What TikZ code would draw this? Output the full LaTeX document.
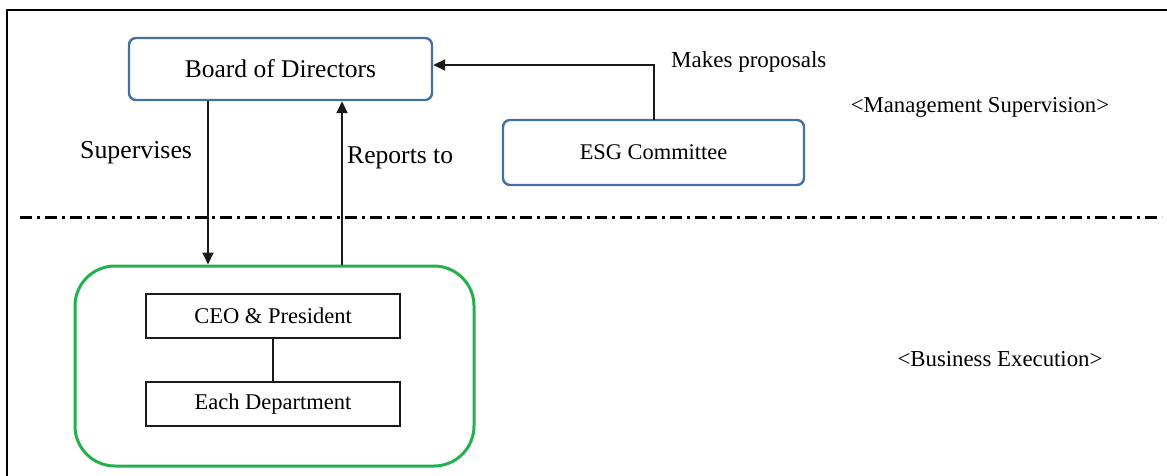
\documentclass[tikz,border=0pt]{standalone}
\usepackage{fontspec}
\setmainfont{Liberation Serif}
\usetikzlibrary{arrows.meta}
\definecolor{boxblue}{HTML}{41719C}
\definecolor{boxgreen}{HTML}{22B14C}
\definecolor{linegray}{HTML}{1A1A1A}
\tikzset{
  bluebox/.style={draw=boxblue, line width=2.4pt, rounded corners=7pt, fill=white, inner sep=0pt},
  plainbox/.style={draw=linegray, line width=1.6pt, fill=white, inner sep=0pt, minimum width=254pt, minimum height=44pt, font=\fontsize{22.5}{24}\selectfont},
  arr/.style={draw=linegray, line width=2pt, -{Triangle[length=12pt,width=11pt]}},
  conn/.style={draw=linegray, line width=1.6pt},
  lbl/.style={inner sep=0pt},
}
\begin{document}
\begin{tikzpicture}[x=1pt,y=-1pt]
\useasboundingbox (0,0) rectangle (1167,476);
% frame
\draw[line width=2pt, black] (7,478) -- (7,10) -- (1169,10);
% separator
\draw[line width=3pt, black, dash pattern=on 12pt off 5pt on 3pt off 5pt] (20,217) -- (1162,217);
% nodes
\node[bluebox, minimum width=303pt, minimum height=62pt, font=\fontsize{25.5}{27}\selectfont] (board) at (280.5,69) {Board of Directors};
\node[bluebox, minimum width=301pt, minimum height=65pt, font=\fontsize{22.4}{24}\selectfont] (esg) at (653.5,152.5) {ESG Committee};
\node[draw=boxgreen, line width=3pt, rounded corners=40pt, minimum width=399pt, minimum height=200pt, inner sep=0pt] (exec) at (274.5,366) {};
\node[plainbox] (ceo) at (273,316) {CEO \& President};
\node[plainbox] (dept) at (273,404) {Each Department};
% labels
\node[lbl, anchor=west, font=\fontsize{23}{25}\selectfont] (mp) at (671,62) {Makes proposals};
\node[lbl, anchor=west, font=\fontsize{25.8}{28}\selectfont] (sup) at (80,153) {Supervises};
\node[lbl, anchor=west, font=\fontsize{25.6}{28}\selectfont] (rep) at (347,158) {Reports to};
\node[inner sep=0pt, font=\fontsize{22.7}{25}\selectfont] (mgmt) at (980,107) {<Management Supervision>};
\node[inner sep=0pt, font=\fontsize{22.8}{25}\selectfont] (biz) at (1000,359) {<Business Execution>};
% connectors
\coordinate (esgtop) at (654,120);
\draw[arr] (esgtop) |- ([yshift=4pt]board.east);
\draw[arr] (board.south -| 208,0) -- (exec.north -| 208,0);
\draw[arr] (exec.north -| 342,0) -- (board.south -| 342,0);
\draw[conn] (ceo) -- (dept);
\end{tikzpicture}
\end{document}
